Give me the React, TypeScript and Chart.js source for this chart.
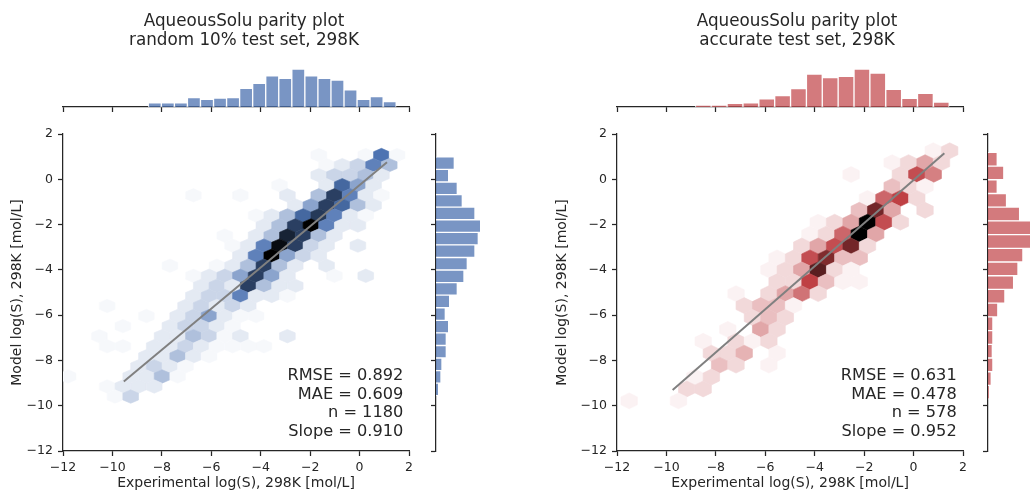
import { useEffect, useRef } from "react";
import { Chart, registerables } from "chart.js";

Chart.register(...registerables);

const FONT = "'DejaVu Sans', 'Liberation Sans', sans-serif";
const INK = "#262626";
const CW = 1030;
const CH = 492;

// ---------------- shared axis ticks ----------------
const axisMin = -12;
const axisMax = 2;
const axisStep = 2;
const xAxisTitle = "Experimental log(S), 298K [mol/L]";
const yAxisTitle = "Model log(S), 298K [mol/L]";

// ---------------- left panel: random 10% test set ----------------
const randomTitle = ["AqueousSolu parity plot", "random 10% test set, 298K"];
const randomStats = ["RMSE = 0.892", "MAE = 0.609", "n = 1180", "Slope = 0.910"];

const randomTopBins = [-8.286, -7.758, -7.23, -6.702, -6.174, -5.646, -5.118, -4.59, -4.062, -3.534, -3.006, -2.478, -1.95, -1.422, -0.894, -0.366, 0.162, 0.69, 1.218];
const randomTopCounts = [16, 16, 16, 35, 29, 33, 35, 70, 89, 117, 107, 142, 117, 107, 101, 64, 29, 39, 20];

const randomSideBins = [0.712, 0.157, -0.398, -0.954, -1.509, -2.064, -2.619, -3.175, -3.73, -4.285, -4.84, -5.396, -5.951, -6.506, -7.061, -7.617, -8.172, -8.727, -9.282];
const randomSideCounts = [55, 38, 64, 79, 117, 134, 127, 117, 94, 84, 64, 41, 28, 38, 31, 31, 18, 15, 8];

const randomFitX = [-9.54, 1.11];
const randomFitY = [-8.93, 0.75];

const randomHexCellW = 0.634;
const randomHexCellH = 0.889;
const randomHexRowY = [1.07, 0.626, 0.181, -0.263, -0.708, -1.152, -1.596, -2.041, -2.485, -2.93, -3.374, -3.818, -4.263, -4.707, -5.152, -5.596, -6.04, -6.485, -6.929, -7.374, -7.818, -8.262, -8.707, -9.151, -9.596];
const randomHexRowX = [
  [-1.652, 0.25, 0.884, 1.518],
  [-1.335, -0.701, -0.067, 0.567, 1.201],
  [-1.652, -1.018, -0.384, 0.25, 0.884],
  [-3.237, -1.335, -0.701, -0.067, 0.567],
  [-6.724, -4.822, -2.92, -1.652, -1.018, -0.384, 0.25, 0.884],
  [-2.603, -1.969, -1.335, -0.701, -0.067, 0.567],
  [-4.188, -3.554, -2.92, -2.286, -1.652, -1.018, -0.384, 0.25],
  [-3.871, -3.237, -2.603, -1.969, -1.335, -0.701, -0.067],
  [-5.456, -4.188, -3.554, -2.92, -2.286, -1.652, -1.018],
  [-5.139, -4.505, -3.871, -3.237, -2.603, -1.969, -1.335, -0.067],
  [-4.822, -4.188, -3.554, -2.92, -2.286, -1.652],
  [-7.675, -5.773, -5.139, -4.505, -3.871, -3.237, -2.603, -1.335],
  [-6.724, -6.09, -5.456, -4.822, -4.188, -3.554, -2.92, -1.018, 0.25],
  [-6.407, -5.773, -5.139, -4.505, -3.871, -3.237, -2.603],
  [-6.724, -6.09, -5.456, -4.822, -4.188, -3.554, -2.92],
  [-10.211, -7.041, -6.407, -5.773, -5.139, -4.505],
  [-8.626, -7.358, -6.724, -6.09, -5.456, -4.822, -4.188],
  [-9.577, -7.675, -7.041, -6.407, -5.773, -5.139],
  [-10.528, -7.992, -7.358, -6.724, -6.09, -5.456, -4.822, -2.92],
  [-10.211, -9.577, -8.309, -7.675, -7.041, -6.407, -5.773, -5.139, -4.505, -3.871],
  [-8.626, -7.992, -7.358, -6.724, -6.09],
  [-8.943, -8.309, -7.675, -7.041],
  [-11.796, -9.26, -8.626, -7.992, -7.358],
  [-10.211, -9.577, -8.943, -8.309],
  [-9.894, -9.26],
];
const randomHexRowCount = [
  [1, 1, 20, 1],
  [1, 3, 6, 18, 9],
  [3, 6, 6, 9, 3],
  [1, 3, 22, 13, 3],
  [1, 1, 3, 9, 29, 18, 3, 1],
  [3, 13, 29, 22, 9, 3],
  [1, 3, 9, 22, 30, 18, 3, 1],
  [3, 9, 29, 40, 18, 3, 3],
  [1, 3, 9, 34, 29, 9, 3],
  [1, 3, 18, 38, 29, 6, 3, 3],
  [3, 18, 40, 13, 6, 3],
  [1, 1, 3, 9, 29, 9, 3, 3],
  [1, 3, 6, 13, 29, 13, 3, 1, 3],
  [3, 6, 3, 29, 9, 3, 3],
  [3, 6, 6, 18, 3, 3, 1],
  [1, 3, 6, 3, 6, 3],
  [1, 3, 6, 13, 3, 1, 1],
  [1, 3, 6, 6, 3, 1],
  [1, 3, 3, 9, 6, 1, 3, 3],
  [1, 1, 3, 3, 6, 3, 1, 1, 1, 1],
  [3, 3, 9, 3, 1],
  [3, 6, 3, 1],
  [1, 3, 3, 9, 1],
  [1, 3, 3, 3],
  [1, 6],
];

// ---------------- right panel: accurate test set ----------------
const accurateTitle = ["AqueousSolu parity plot", "accurate test set, 298K"];
const accurateStats = ["RMSE = 0.631", "MAE = 0.478", "n = 578", "Slope = 0.952"];

const accurateTopBins = [-8.509, -7.867, -7.225, -6.583, -5.941, -5.299, -4.657, -4.015, -3.373, -2.731, -2.089, -1.447, -0.805, -0.163, 0.479, 1.121];
const accurateTopCounts = [4, 4, 8, 9, 18, 25, 41, 73, 65, 68, 84, 75, 39, 19, 30, 11];

const accurateSideBins = [0.887, 0.282, -0.324, -0.929, -1.535, -2.14, -2.746, -3.351, -3.957, -4.563, -5.168, -5.774, -6.379, -6.985, -7.59, -8.196, -8.801, -9.407];
const accurateSideCounts = [17, 29, 17, 34, 58, 85, 81, 64, 55, 47, 31, 18, 9, 9, 8, 9, 6, 2];

const accurateFitX = [-9.75, 1.245];
const accurateFitY = [-9.31, 1.145];

const accurateHexCellW = 0.665;
const accurateHexCellH = 1.052;
const accurateHexRowY = [1.261, 0.735, 0.209, -0.317, -0.843, -1.369, -1.895, -2.421, -2.947, -3.473, -3.999, -4.525, -5.051, -5.577, -6.103, -6.629, -7.155, -7.681, -8.207, -8.733, -9.259, -9.785];
const accurateHexRowX = [
  [0.796, 1.461],
  [-0.867, -0.202, 0.464, 1.129],
  [-2.529, -0.534, 0.131, 0.796],
  [-0.867, -0.202, 0.464],
  [-1.864, -1.199, -0.534, 0.131],
  [-2.197, -1.532, -0.867, 0.464],
  [-3.859, -3.194, -2.529, -1.864, -1.199, -0.534],
  [-4.192, -3.527, -2.862, -2.197, -1.532],
  [-4.524, -3.859, -3.194, -2.529, -1.864],
  [-5.522, -4.857, -4.192, -3.527, -2.862, -2.197],
  [-5.854, -5.189, -4.524, -3.859, -3.194, -2.529],
  [-5.522, -4.857, -4.192, -3.527, -2.862, -2.197],
  [-7.184, -5.854, -5.189, -4.524, -3.859],
  [-6.852, -6.187, -5.522, -4.857],
  [-6.519, -5.854, -5.189],
  [-7.517, -6.187, -5.522],
  [-8.514, -7.184, -6.519, -5.854],
  [-8.182, -7.517, -6.852, -5.522],
  [-7.849, -7.184, -5.854],
  [-8.847, -8.182],
  [-9.179, -8.514],
  [-11.507, -9.512],
];
const accurateHexRowCount = [
  [1, 3],
  [1, 3, 7, 3],
  [1, 3, 14, 10],
  [5, 3, 1],
  [1, 12, 15, 3],
  [5, 21, 7, 3],
  [1, 3, 7, 30, 14, 3],
  [1, 3, 12, 30, 7],
  [3, 7, 14, 21, 3],
  [1, 3, 14, 20, 5, 5],
  [1, 3, 7, 23, 3, 1],
  [3, 3, 15, 5, 1, 1],
  [1, 3, 7, 11, 3],
  [3, 5, 5, 1],
  [3, 5, 3],
  [1, 7, 3],
  [1, 3, 1, 3],
  [3, 3, 6, 1],
  [5, 3, 1],
  [1, 3],
  [3, 3],
  [1, 1],
];

// ---------------- styling ----------------
const BLUE_HIST = "rgba(76,114,176,0.75)";
const RED_HIST = "rgba(196,78,82,0.75)";
const BLUE_HLS = { h: 217.2 / 360, s: 0.397 };
const RED_HLS = { h: 357.9 / 360, s: 0.5 };

type Box = { left: number; top: number; right: number; bottom: number };

const leftMain: Box = { left: 63, top: 134, right: 409, bottom: 451 };
const rightMain: Box = { left: 617, top: 134, right: 963, bottom: 451 };
const leftTop: Box = { left: 63, top: 60, right: 409, bottom: 107 };
const rightTop: Box = { left: 617, top: 60, right: 963, bottom: 107 };
const leftSide: Box = { left: 436, top: 134, right: 483, bottom: 451 };
const rightSide: Box = { left: 988, top: 134, right: 1030, bottom: 451 };

function hueVal(m1: number, m2: number, hue: number) {
  hue = ((hue % 1) + 1) % 1;
  if (hue < 1 / 6) return m1 + (m2 - m1) * hue * 6;
  if (hue < 0.5) return m2;
  if (hue < 2 / 3) return m1 + (m2 - m1) * (2 / 3 - hue) * 6;
  return m1;
}
function hlsColor(h: number, l: number, s: number) {
  const m2 = l <= 0.5 ? l * (1 + s) : l + s - l * s;
  const m1 = 2 * l - m2;
  const r = hueVal(m1, m2, h + 1 / 3);
  const g = hueVal(m1, m2, h);
  const b = hueVal(m1, m2, h - 1 / 3);
  return `rgb(${Math.round(r * 255)},${Math.round(g * 255)},${Math.round(b * 255)})`;
}

function fmt(v: number | string) {
  const n = Number(v);
  return n < 0 ? "\u2212" + Math.abs(n) : String(n);
}

const common = {
  responsive: false,
  maintainAspectRatio: false,
  animation: false as const,
  events: [] as any[],
  devicePixelRatio: 1,
  plugins: { legend: { display: false }, tooltip: { enabled: false }, title: { display: false } },
};

const gridTicksOnly = {
  display: true,
  drawOnChartArea: false,
  drawTicks: true,
  tickLength: 5,
  tickWidth: 1.25,
  tickColor: INK,
  color: INK,
  offset: false,
};
const spine = { display: true, color: INK, width: 1.25 };

function hexbinPlugin(counts: number[], cellW: number, cellH: number, hue: number, sat: number) {
  const top = Math.max(...counts);
  return {
    id: "hexbin",
    beforeDatasetsDraw(chart: any) {
      const meta = chart.getDatasetMeta(0);
      const xs = chart.scales.x;
      const ys = chart.scales.y;
      const pw = Math.abs(xs.getPixelForValue(cellW) - xs.getPixelForValue(0));
      const ph = Math.abs(ys.getPixelForValue(cellH) - ys.getPixelForValue(0));
      const ctx: CanvasRenderingContext2D = chart.ctx;
      const a = chart.chartArea;
      ctx.save();
      ctx.beginPath();
      ctx.rect(a.left, a.top, a.right - a.left, a.bottom - a.top);
      ctx.clip();
      meta.data.forEach((el: any, i: number) => {
        const col = hlsColor(hue, 1 - counts[i] / top, sat);
        const x = el.x;
        const y = el.y;
        ctx.beginPath();
        ctx.moveTo(x + pw / 2, y - ph / 6);
        ctx.lineTo(x + pw / 2, y + ph / 6);
        ctx.lineTo(x, y + ph / 3);
        ctx.lineTo(x - pw / 2, y + ph / 6);
        ctx.lineTo(x - pw / 2, y - ph / 6);
        ctx.lineTo(x, y - ph / 3);
        ctx.closePath();
        ctx.fillStyle = col;
        ctx.fill();
        ctx.strokeStyle = col;
        ctx.lineWidth = 0.6;
        ctx.stroke();
      });
      ctx.restore();
    },
  };
}

function valueAxis(title: string, size: number, horizontal: boolean, pad: number) {
  return {
    type: "linear",
    min: axisMin,
    max: axisMax,
    offset: false,
    ticks: {
      stepSize: axisStep,
      color: INK,
      font: { family: FONT, size: 12.5 },
      padding: pad,
      autoSkip: false,
      maxRotation: 0,
      callback: (v: number) => fmt(v),
    },
    grid: gridTicksOnly,
    border: spine,
    title: { display: true, text: title, color: INK, font: { family: FONT, size: 14, lineHeight: 1.2 }, padding: 0 },
    afterFit: (s: any) => {
      if (horizontal) s.height = size;
      else s.width = size;
    },
  };
}

function mainConfig(p: {
  area: Box;
  yTitleX: number;
  rowX: number[][];
  rowY: number[];
  rowC: number[][];
  cellW: number;
  cellH: number;
  hls: { h: number; s: number };
  fitX: number[];
  fitY: number[];
}) {
  const pts: { x: number; y: number }[] = [];
  const cs: number[] = [];
  p.rowX.forEach((row, k) =>
    row.forEach((x, j) => {
      pts.push({ x, y: p.rowY[k] });
      cs.push(p.rowC[k][j]);
    })
  );
  const padLeft = p.yTitleX - 8.4;
  const yWidth = p.area.left - padLeft;
  const xHeight = CH - p.area.bottom;
  return {
    type: "scatter",
    data: {
      datasets: [
        { data: pts, pointRadius: 0, pointHoverRadius: 0 },
        {
          data: p.fitX.map((x, i) => ({ x, y: p.fitY[i] })),
          showLine: true,
          borderColor: "#808080",
          borderWidth: 2,
          pointRadius: 0,
          fill: false,
        },
      ],
    },
    options: {
      ...common,
      layout: { padding: { left: padLeft, top: p.area.top, right: CW - p.area.right, bottom: 0 } },
      scales: {
        x: { ...valueAxis(xAxisTitle, xHeight, true, 4), position: "bottom" },
        y: { ...valueAxis(yAxisTitle, yWidth, false, 5), position: "left" },
      },
    },
    plugins: [hexbinPlugin(cs, p.cellW, p.cellH, p.hls.h, p.hls.s)],
  };
}

function topHistConfig(area: Box, bins: number[], counts: number[], vmax: number, color: string) {
  const axisH = 8;
  return {
    type: "bar",
    data: {
      datasets: [
        {
          data: bins.map((x, i) => ({ x, y: counts[i] })),
          backgroundColor: color,
          borderColor: "rgba(255,255,255,0.75)",
          borderWidth: 1,
          borderSkipped: "start",
          barPercentage: 1,
          categoryPercentage: 1,
        },
      ],
    },
    options: {
      ...common,
      layout: { padding: { left: area.left, top: area.top, right: CW - area.right, bottom: CH - area.bottom - axisH } },
      scales: {
        x: {
          type: "linear",
          position: "bottom",
          min: axisMin,
          max: axisMax,
          offset: false,
          ticks: { display: false, stepSize: axisStep },
          grid: gridTicksOnly,
          border: spine,
          afterFit: (s: any) => {
            s.height = axisH;
          },
        },
        y: { display: false, min: 0, max: vmax },
      },
    },
  };
}

function sideHistConfig(area: Box, bins: number[], counts: number[], vmax: number, color: string) {
  const axisW = 8;
  return {
    type: "bar",
    data: {
      datasets: [
        {
          data: bins.map((y, i) => ({ x: counts[i], y })),
          backgroundColor: color,
          borderColor: "rgba(255,255,255,0.75)",
          borderWidth: 1,
          borderSkipped: "start",
          barPercentage: 1,
          categoryPercentage: 1,
        },
      ],
    },
    options: {
      ...common,
      indexAxis: "y",
      layout: { padding: { left: area.left - axisW, top: area.top, right: CW - area.right, bottom: CH - area.bottom } },
      scales: {
        y: {
          type: "linear",
          position: "left",
          min: axisMin,
          max: axisMax,
          offset: false,
          ticks: { display: false, stepSize: axisStep },
          grid: gridTicksOnly,
          border: spine,
          afterFit: (s: any) => {
            s.width = axisW;
          },
        },
        x: { display: false, min: 0, max: vmax },
      },
    },
  };
}

const textBase = { position: "absolute" as const, fontFamily: FONT, color: INK, whiteSpace: "pre" as const };

function Title({ lines, cx }: { lines: string[]; cx: number }) {
  return (
    <div style={{ ...textBase, left: cx - 200, width: 400, top: 11, textAlign: "center", fontSize: 16.8, lineHeight: "19px" }}>
      {lines.map((l) => (
        <div key={l}>{l}</div>
      ))}
    </div>
  );
}

function Stats({ lines, rightX }: { lines: string[]; rightX: number }) {
  return (
    <div style={{ ...textBase, right: CW - rightX, top: 365.8, textAlign: "right", fontSize: 16.2, lineHeight: "18.8px" }}>
      {lines.map((l) => (
        <div key={l}>{l}</div>
      ))}
    </div>
  );
}

export default function App() {
  const canvases = useRef<(HTMLCanvasElement | null)[]>([]);

  useEffect(() => {
    const configs: any[] = [
      mainConfig({
        area: leftMain,
        yTitleX: 17.5,
        rowX: randomHexRowX,
        rowY: randomHexRowY,
        rowC: randomHexRowCount,
        cellW: randomHexCellW,
        cellH: randomHexCellH,
        hls: BLUE_HLS,
        fitX: randomFitX,
        fitY: randomFitY,
      }),
      topHistConfig(leftTop, randomTopBins, randomTopCounts, 176, BLUE_HIST),
      sideHistConfig(leftSide, randomSideBins, randomSideCounts, 141, BLUE_HIST),
      mainConfig({
        area: rightMain,
        yTitleX: 562.5,
        rowX: accurateHexRowX,
        rowY: accurateHexRowY,
        rowC: accurateHexRowCount,
        cellW: accurateHexCellW,
        cellH: accurateHexCellH,
        hls: RED_HLS,
        fitX: accurateFitX,
        fitY: accurateFitY,
      }),
      topHistConfig(rightTop, accurateTopBins, accurateTopCounts, 104, RED_HIST),
      sideHistConfig(rightSide, accurateSideBins, accurateSideCounts, 77, RED_HIST),
    ];
    const charts = configs.map((cfg, i) => new Chart(canvases.current[i] as HTMLCanvasElement, cfg));
    return () => charts.forEach((c) => c.destroy());
  }, []);

  return (
    <div style={{ position: "absolute", left: 0, top: 0, width: CW, height: CH, overflow: "hidden", background: "#fff" }}>
      {[0, 1, 2, 3, 4, 5].map((i) => (
        <canvas
          key={i}
          ref={(el) => {
            canvases.current[i] = el;
          }}
          width={CW}
          height={CH}
          style={{ position: "absolute", left: 0, top: 0, width: CW, height: CH }}
        />
      ))}
      <Title lines={randomTitle} cx={244} />
      <Title lines={accurateTitle} cx={797} />
      <Stats lines={randomStats} rightX={403.3} />
      <Stats lines={accurateStats} rightX={956.7} />
    </div>
  );
}
